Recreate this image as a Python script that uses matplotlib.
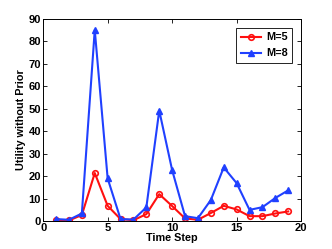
import matplotlib
matplotlib.use('Agg')
import matplotlib.pyplot as plt

plt.rcParams['font.family'] = ['Liberation Sans', 'DejaVu Sans']
plt.rcParams['font.weight'] = 'bold'

# data
steps = list(range(1, 20))
m5 = [0.5, 0.3, 2.7, 21.4, 6.8, 0.9, 0.4, 3.1, 12.0, 6.7,
      1.2, 0.6, 3.6, 6.8, 5.2, 2.2, 2.2, 3.4, 4.3]
m8 = [0.9, 0.6, 3.4, 85.1, 19.0, 0.9, 0.7, 6.1, 49.2, 22.7,
      2.2, 1.3, 9.4, 23.9, 16.9, 5.0, 6.2, 10.3, 13.7]
xticks = [0, 5, 10, 15, 20]
yticks = [0, 10, 20, 30, 40, 50, 60, 70, 80, 90]

fig = plt.figure(figsize=(3.32, 2.49), dpi=100)
ax = fig.add_axes([0.130, 0.112, 0.777, 0.812])

ax.plot(steps, m5, color='#ff1010', marker='o', markersize=4, markerfacecolor='none',
        markeredgewidth=1.2, linewidth=1.5, label='M=5')
ax.plot(steps, m8, color='#2040ff', marker='^', markersize=5, linewidth=1.5, label='M=8')

ax.set_xlim(0, 20)
ax.set_ylim(0, 90)
ax.set_xticks(xticks)
ax.set_yticks(yticks)
ax.tick_params(direction='in', length=3, width=0.6, labelsize=8, pad=1.5,
               top=True, right=True)
for s in ax.spines.values():
    s.set_linewidth(0.7)

ax.set_xlabel('Time Step', fontsize=7.8, fontweight='bold', labelpad=0)
ax.set_ylabel('Utility without Prior', fontsize=7.8, fontweight='bold', labelpad=2)

leg = ax.legend(loc='upper right', fontsize=7.8, fancybox=False, framealpha=1,
                edgecolor='black', borderpad=0.45, handlelength=1.9, handletextpad=0.4,
                labelspacing=0.55, borderaxespad=0.8)
leg.get_frame().set_linewidth(0.6)

fig.savefig('out.png', dpi=100)
